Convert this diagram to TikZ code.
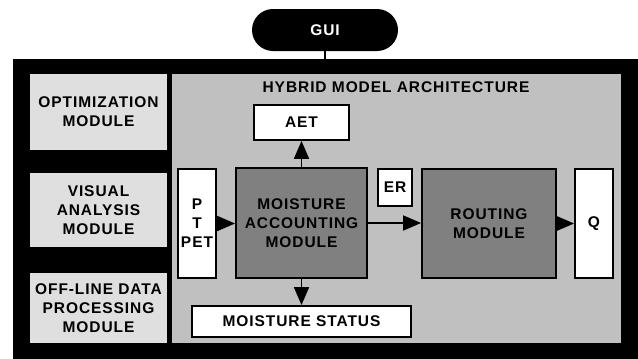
\documentclass[tikz,border=0pt]{standalone}
\usepackage{fontspec}
\setmainfont{Liberation Sans}[LetterSpace=6]
\usetikzlibrary{arrows.meta}
\definecolor{sidegray}{HTML}{DFDFDF}
\definecolor{areagray}{HTML}{C0C0C0}
\definecolor{modgray}{HTML}{808080}
\begin{document}
\begin{tikzpicture}[x=1pt,y=-1pt,
  lab/.style={font=\fontsize{15.5}{19}\selectfont\bfseries, align=center, inner sep=0pt, anchor=center, text=black},
  sidebox/.style={lab, fill=sidegray, minimum width=137pt},
  whitebox/.style={lab, draw=black, line width=1.8pt, fill=white},
  modbox/.style={lab, draw=black, line width=1.8pt, fill=modgray},
  arr/.style={line width=1.8pt, -{Triangle[length=18pt,width=15pt]}}
]
\useasboundingbox (0,0) rectangle (638,359);
% GUI pill
\node[lab, fill=black, text=white, minimum width=146pt, minimum height=42pt, rounded corners=21pt] (gui) at (325,30) {GUI};
% outer frame
\node[fill=black, minimum width=625pt, minimum height=300pt, inner sep=0pt] (frame) at (325.5,209) {};
\draw[line width=1.8pt] (gui.south) -- (gui.south |- frame.north);
% side modules
\node[sidebox, minimum height=76pt] (opt) at (98.5,112) {OPTIMIZATION\\MODULE};
\node[sidebox, minimum height=74pt] (vis) at (98.5,210) {VISUAL\\ANALYSIS\\MODULE};
\node[sidebox, minimum height=70pt] (off) at (98.5,308) {OFF-LINE DATA\\PROCESSING\\MODULE};
% hybrid area
\node[fill=areagray, minimum width=449pt, minimum height=269pt, inner sep=0pt] (area) at (396.5,208.5) {};
\node[lab] (title) at (396,87) {HYBRID MODEL ARCHITECTURE};
% inner boxes
\node[whitebox, minimum width=95pt, minimum height=35pt] (aet) at (301.5,122.5) {AET};
\node[modbox, minimum width=131pt, minimum height=110pt] (mam) at (301.5,223) {MOISTURE\\ACCOUNTING\\MODULE};
\node[whitebox, minimum width=38pt, minimum height=109pt] (pet) at (197,223.5) {P\\T\\PET};
\node[whitebox, minimum width=219pt, minimum height=31pt] (ms) at (301.5,321.5) {MOISTURE STATUS};
\node[whitebox, minimum width=34pt, minimum height=37pt] (er) at (395,187.5) {ER};
\node[modbox, minimum width=134pt, minimum height=109pt] (rout) at (489,223.5) {ROUTING\\MODULE};
\node[whitebox, minimum width=38pt, minimum height=109pt] (q) at (594,223.5) {Q};
% arrows
\draw[arr] (pet.east) -- (pet.east -| mam.west);
\draw[arr] (mam.north) -- (aet.south);
\draw[arr] (mam.south) -- (ms.north);
\draw[arr] (mam.east) -- (mam.east -| rout.west);
\draw[arr] (rout.east) -- (rout.east -| q.west);
\end{tikzpicture}
\end{document}
